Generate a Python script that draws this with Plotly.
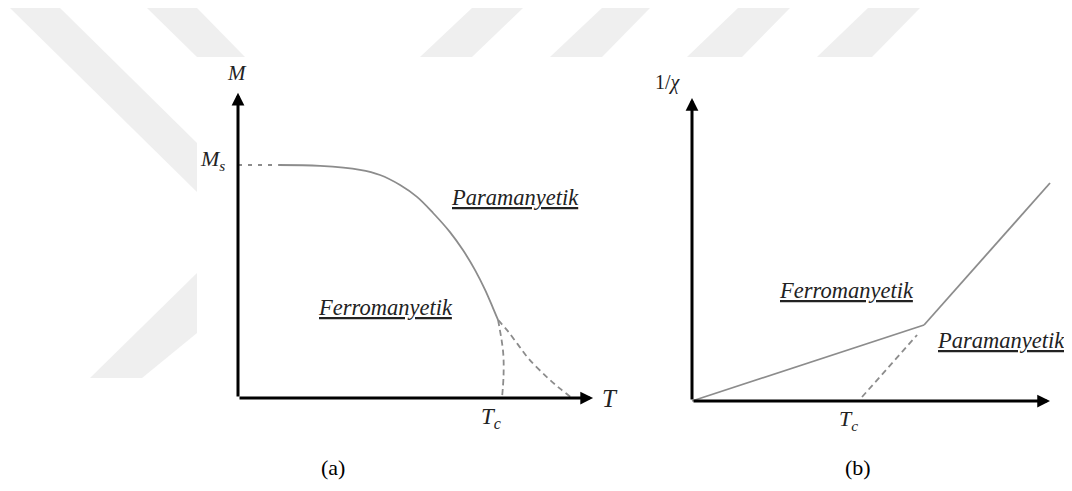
import plotly.graph_objects as go

# the page body keeps an 8px margin, so the figure is 8px smaller than the window
PAD = 8
W, H = 1072 - PAD, 491 - PAD

# (a) M against T  (T in units of Tc, M in units of Ms)
ms_T = [0.0, 0.15]
ms_M = [1.0, 1.0]
m_T = [0.152, 0.311, 0.462, 0.538, 0.614, 0.678, 0.739, 0.803, 0.852, 0.898, 0.936, 0.966, 0.985]
m_M = [1.0, 0.996, 0.979, 0.957, 0.914, 0.863, 0.794, 0.712, 0.635, 0.549, 0.464, 0.386, 0.335]
drop_T = [0.985, 1.004, 1.006, 1.0]
drop_M = [0.335, 0.2, 0.1, 0.0]
tail_T = [0.985, 1.02, 1.06, 1.1, 1.17, 1.22, 1.265]
tail_M = [0.335, 0.29, 0.23, 0.17, 0.09, 0.04, 0.0]

# (b) 1/chi against T
ferro_T = [0.0, 1.365]
ferro_inv = [0.0, 0.76]
para_T = [1.365, 2.106]
para_inv = [0.76, 2.18]
cw_T = [1.0, 1.324]
cw_inv = [0.04, 0.66]

GRAY = "#8c8c8c"
SERIF = "Liberation Serif"


def dom(lo, hi, origin, scale, size):
    # axis domain so that value 0 sits at pixel `origin`, `scale` px per unit
    return [max(0.0, (origin + lo * scale) / size), min(1.0, (origin + hi * scale) / size)]


def px(x, y):
    # page pixel -> paper coordinates
    return (x - PAD) / W, 1 - (y - PAD) / H


fig = go.Figure()

line = dict(color=GRAY, width=1.8)
dashed = dict(color=GRAY, width=1.8, dash="6px,4px")
fig.add_trace(go.Scatter(x=ms_T, y=ms_M, mode="lines",
                         line=dict(color=GRAY, width=1.8, dash="4px,6px"), xaxis="x", yaxis="y"))
fig.add_trace(go.Scatter(x=m_T, y=m_M, mode="lines", line=dict(line, shape="spline"),
                         xaxis="x", yaxis="y"))
fig.add_trace(go.Scatter(x=drop_T, y=drop_M, mode="lines", line=dict(dashed, shape="spline"),
                         xaxis="x", yaxis="y"))
fig.add_trace(go.Scatter(x=tail_T, y=tail_M, mode="lines", line=dict(dashed, shape="spline"),
                         xaxis="x", yaxis="y"))

fig.add_trace(go.Scatter(x=ferro_T, y=ferro_inv, mode="lines", line=line, xaxis="x2", yaxis="y2"))
fig.add_trace(go.Scatter(x=para_T, y=para_inv, mode="lines", line=line, xaxis="x2", yaxis="y2"))
fig.add_trace(go.Scatter(x=cw_T, y=cw_inv, mode="lines", line=dashed, xaxis="x2", yaxis="y2"))

# axis arrows
arrows = [("x", "y", 0, 0, 1.345, 0), ("x", "y", 0, 0, 0, 1.31),
          ("x2", "y2", 0, 0, 2.106, 0), ("x2", "y2", 0, 0, 0, 3.03)]
for xr, yr, x0, y0, x1, y1 in arrows:
    fig.add_annotation(x=x1, y=y1, ax=x0, ay=y0, xref=xr, yref=yr, axref=xr, ayref=yr,
                       text="", showarrow=True, arrowhead=2, arrowsize=0.85,
                       arrowwidth=3, arrowcolor="black", standoff=0)


def label(text, x, y, xr, yr, size, color="#222"):
    fig.add_annotation(x=x, y=y, xref=xr, yref=yr, text=text, showarrow=False,
                       xanchor="center", yanchor="middle",
                       font=dict(family=SERIF, size=size, color=color))


label("<i>M</i>", -0.004, 1.395, "x", "y", 21)
label("<i>M<sub>s</sub></i>", -0.095, 1.02, "x", "y", 22)
label("<i>T</i>", 1.41, 0.0, "x", "y", 25)
label("<i>T<sub>c</sub></i>", 0.96, -0.085, "x", "y", 23)
label("<i><u>Paramanyetik</u></i>", 1.05, 0.86, "x", "y", 22.5)
label("<i><u>Ferromanyetik</u></i>", 0.557, 0.39, "x", "y", 22.5)

label("1/<i>χ</i>", -0.14, 3.18, "x2", "y2", 20)
label("<i>T<sub>c</sub></i>", 0.92, -0.19, "x2", "y2", 22)
label("<i><u>Ferromanyetik</u></i>", 0.91, 1.11, "x2", "y2", 22.5)
label("<i><u>Paramanyetik</u></i>", 1.82, 0.61, "x2", "y2", 22.5)

for text, cx in [("(a)", 333), ("(b)", 858)]:
    label(text, *px(cx, 467), "paper", "paper", 22, color="black")

# faint watermark in the page margin
marks = [
    [(10, 8), (60, 8), (197, 143), (197, 192)],
    [(197, 273), (197, 333), (142, 378), (90, 378)],
    [(147, 8), (197, 8), (245, 57), (197, 57)],
    [(472, 8), (523, 8), (472, 57), (420, 57)],
    [(602, 8), (650, 8), (602, 57), (550, 57)],
    [(738, 8), (790, 8), (742, 57), (687, 57)],
    [(868, 8), (920, 8), (872, 57), (817, 57)],
]
for pts in marks:
    path = "M " + " L ".join("%f,%f" % px(x, y) for x, y in pts) + " Z"
    fig.add_shape(type="path", path=path, xref="paper", yref="paper",
                  fillcolor="#efefef", line=dict(width=0), layer="below")

oa_x, oa_y = 238 - PAD, H - (398 - PAD)
ob_x, ob_y = 692 - PAD, H - (401 - PAD)
x2_hi = (W - ob_x) / 170
hidden = dict(visible=False, showgrid=False, zeroline=False, fixedrange=True)
fig.update_layout(
    width=W, height=H, showlegend=False,
    margin=dict(l=0, r=0, t=0, b=0),
    paper_bgcolor="white", plot_bgcolor="rgba(0,0,0,0)",
    xaxis=dict(hidden, range=[-0.2, 1.55], domain=dom(-0.2, 1.55, oa_x, 264, W)),
    yaxis=dict(hidden, range=[-0.2, 1.5], domain=dom(-0.2, 1.5, oa_y, 233, H)),
    xaxis2=dict(hidden, range=[-0.2, x2_hi], domain=dom(-0.2, x2_hi, ob_x, 170, W), anchor="y2"),
    yaxis2=dict(hidden, range=[-0.4, 3.4], domain=dom(-0.4, 3.4, ob_y, 100, H), anchor="x2"),
)

fig.write_html("out.html")
